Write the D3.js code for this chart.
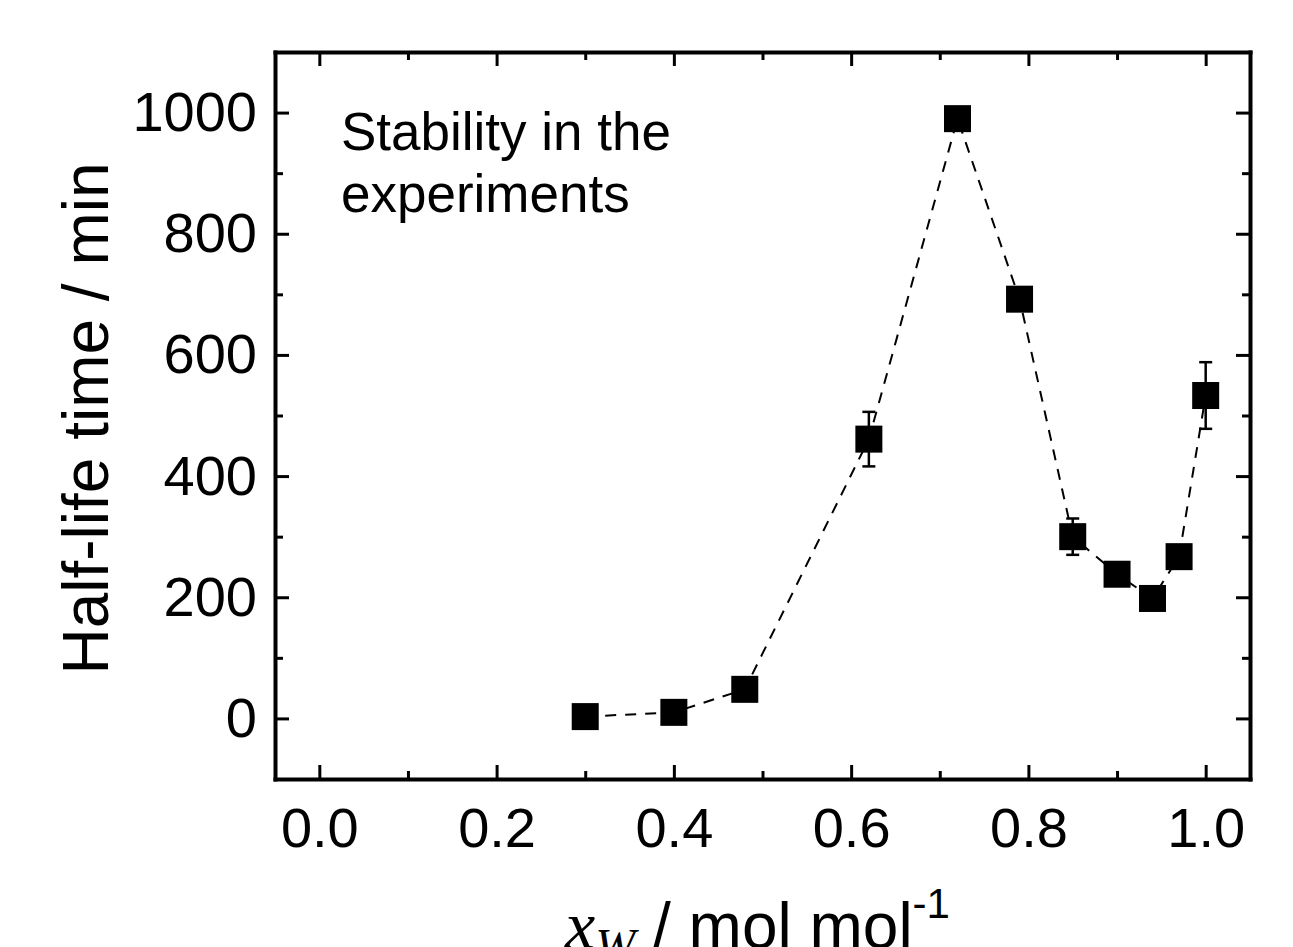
<!DOCTYPE html>
<html>
<head>
<meta charset="utf-8">
<script src="https://cdn.jsdelivr.net/npm/d3@7"></script>
<style>
  body { margin: 0; background: #fff; }
  svg { display: block; font-family: "Liberation Sans", Arial, sans-serif; }
  .axis path { stroke: #000; stroke-width: 4px; }
  .axis line { stroke: #000; stroke-width: 3px; }
  .axis text { font-size: 56px; fill: #000; }
</style>
</head>
<body>
<div id="chart"></div>
<script>
// data
const xw = [0.30, 0.40, 0.48, 0.62, 0.72, 0.79, 0.85, 0.90, 0.94, 0.97, 1.00];
const halfLife = [3, 10, 48, 461, 990, 692, 300, 238, 198, 267, 533];
const halfLifeErr = [0, 0, 0, 45, 0, 0, 30, 0, 0, 0, 55];
const xMajorTicks = [0, 0.2, 0.4, 0.6, 0.8, 1.0];
const xMinorTicks = [0.1, 0.3, 0.5, 0.7, 0.9];
const yMajorTicks = [0, 200, 400, 600, 800, 1000];
const yMinorTicks = [100, 300, 500, 700, 900];

const W = 1293, H = 947;
const margin = {l: 275, r: 43, t: 52, b: 168};
const w = W - margin.l - margin.r;
const h = H - margin.t - margin.b;

const svg = d3.select('#chart').append('svg')
    .attr('width', W)
    .attr('height', H);

const g = svg.append('g')
    .attr('transform', `translate(${margin.l},${margin.t})`);

const scaleX = d3.scaleLinear().domain([-0.05, 1.05]).range([0, w]);
const scaleY = d3.scaleLinear().domain([-100, 1100]).range([h, 0]);

// ticks point inward on all four sides
const major = 14, minor = 8;

function addAxis(axisFn, scale, ticks, size, transform, labels, pad){
    const a = axisFn(scale).tickValues(ticks).tickSizeInner(-size).tickSizeOuter(0).tickPadding(pad || 0);
    a.tickFormat(labels ? labels : '');
    return g.append('g').attr('class', 'axis').attr('transform', transform).call(a);
}

// minor ticks (no labels, no domain line)
addAxis(d3.axisBottom, scaleX, xMinorTicks, minor, `translate(0,${h})`).select('.domain').remove();
addAxis(d3.axisTop, scaleX, xMinorTicks, minor, 'translate(0,0)').select('.domain').remove();
addAxis(d3.axisLeft, scaleY, yMinorTicks, minor, 'translate(0,0)').select('.domain').remove();
addAxis(d3.axisRight, scaleY, yMinorTicks, minor, `translate(${w},0)`).select('.domain').remove();

// major ticks, labels on bottom and left
addAxis(d3.axisBottom, scaleX, xMajorTicks, major, `translate(0,${h})`, d3.format('.1f'), 28);
addAxis(d3.axisTop, scaleX, xMajorTicks, major, 'translate(0,0)');
addAxis(d3.axisLeft, scaleY, yMajorTicks, major, 'translate(0,0)', d3.format('d'), 18);
addAxis(d3.axisRight, scaleY, yMajorTicks, major, `translate(${w},0)`);

g.selectAll('.axis .domain').attr('stroke-linecap', 'square');

const pts = xw.map((x, i) => ({x: x, y: halfLife[i], e: halfLifeErr[i]}));

// dashed connecting line
const line = d3.line().x(d => scaleX(d.x)).y(d => scaleY(d.y));
g.append('path')
    .datum(pts)
    .attr('d', line)
    .attr('fill', 'none')
    .attr('stroke', '#000')
    .attr('stroke-width', 2)
    .attr('stroke-dasharray', '11,9');

// error bars
const eb = g.selectAll('.err')
    .data(pts.filter(d => d.e > 0))
    .enter().append('g')
    .attr('class', 'err')
    .attr('stroke', '#000')
    .attr('stroke-width', 2.5);
eb.append('line')
    .attr('x1', d => scaleX(d.x)).attr('x2', d => scaleX(d.x))
    .attr('y1', d => scaleY(d.y - d.e)).attr('y2', d => scaleY(d.y + d.e));
eb.append('line')
    .attr('x1', d => scaleX(d.x) - 6.5).attr('x2', d => scaleX(d.x) + 6.5)
    .attr('y1', d => scaleY(d.y - d.e)).attr('y2', d => scaleY(d.y - d.e));
eb.append('line')
    .attr('x1', d => scaleX(d.x) - 6.5).attr('x2', d => scaleX(d.x) + 6.5)
    .attr('y1', d => scaleY(d.y + d.e)).attr('y2', d => scaleY(d.y + d.e));

// square markers
const s = 27;
g.selectAll('.pt')
    .data(pts)
    .enter().append('rect')
    .attr('class', 'pt')
    .attr('x', d => scaleX(d.x) - s / 2)
    .attr('y', d => scaleY(d.y) - s / 2)
    .attr('width', s)
    .attr('height', s)
    .attr('fill', '#000');

// annotation
const note = g.append('text')
    .attr('font-size', 53)
    .attr('fill', '#000');
note.append('tspan').attr('x', 66).attr('y', 98).text('Stability in the');
note.append('tspan').attr('x', 66).attr('y', 160).text('experiments');

// y label
svg.append('text')
    .attr('transform', `translate(108,${margin.t + h / 2 + 3}) rotate(-90)`)
    .attr('text-anchor', 'middle')
    .attr('font-size', 64)
    .attr('fill', '#000')
    .text('Half-life time / min');

// x label (cut at the bottom edge, as in the original figure)
const xl = svg.append('text')
    .attr('x', margin.l + w / 2 - 5)
    .attr('y', 948)
    .attr('text-anchor', 'middle')
    .attr('font-size', 64)
    .attr('fill', '#000');
xl.append('tspan')
    .attr('font-family', '"Liberation Serif", "DejaVu Serif", serif')
    .attr('font-style', 'italic')
    .attr('font-size', 68)
    .text('x');
xl.append('tspan')
    .attr('font-family', '"Liberation Serif", "DejaVu Serif", serif')
    .attr('font-style', 'italic')
    .attr('font-size', 48)
    .attr('dy', 14)
    .text('W');
xl.append('tspan').attr('dy', -14).text(' / mol mol');
xl.append('tspan').attr('font-size', 42).attr('dy', -30).text('-1');
</script>
</body>
</html>
